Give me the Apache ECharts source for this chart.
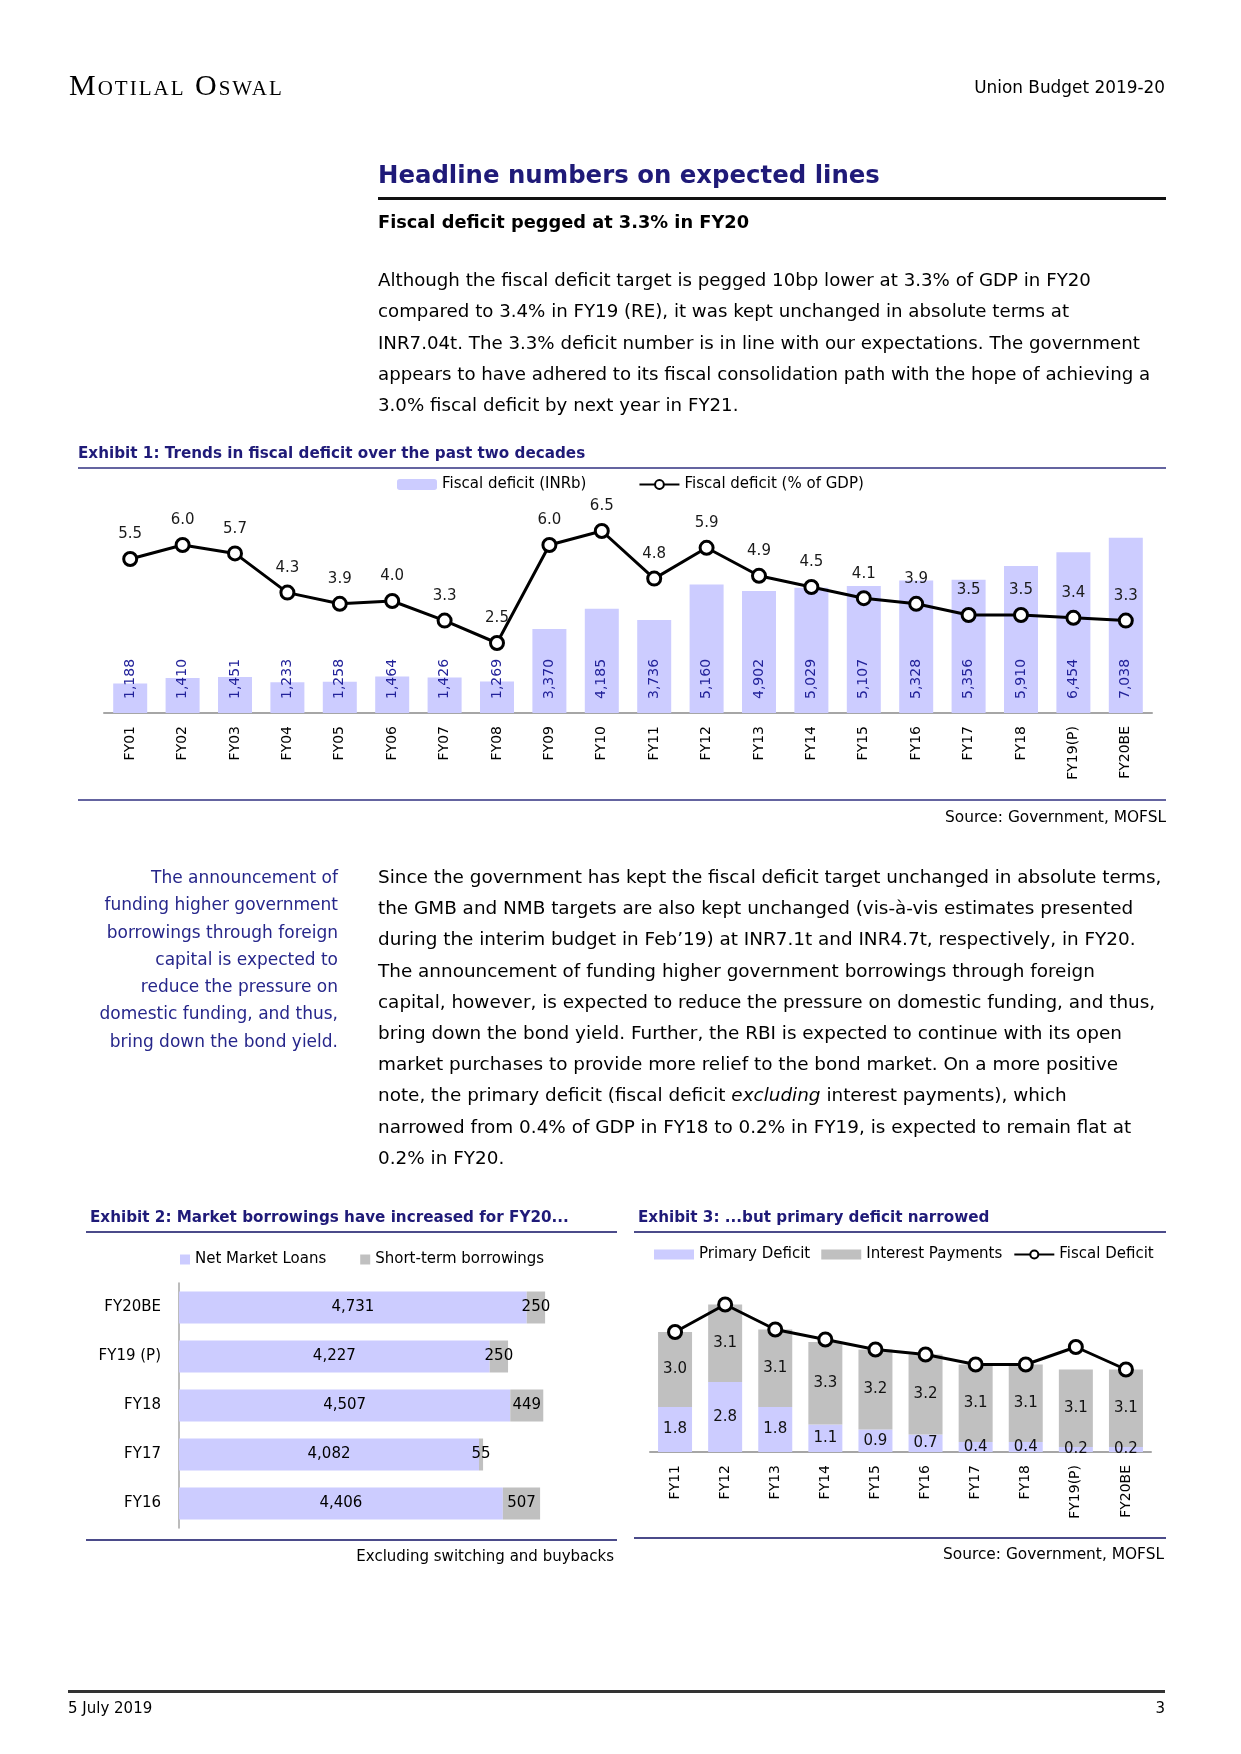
<!DOCTYPE html>
<html>
<head>
<meta charset="utf-8">
<script src="https://cdn.jsdelivr.net/npm/echarts@6/dist/echarts.min.js"></script>
<style>
  html, body { margin:0; padding:0; background:#fff; }
  #page { position:relative; width:1241px; height:1754px; background:#fff; overflow:hidden; font-family:'DejaVu Sans', sans-serif; color:#000; }
  #chart { position:absolute; left:0; top:0; width:1241px; height:1754px; }
  .t { position:absolute; white-space:nowrap; z-index:2; }
  .rule { position:absolute; z-index:2; }
  .navy { color:#1f1a78; }
</style>
</head>
<body>
<div id="page">
  <div id="chart"></div>

  <div class="t" style="left:69px; top:67px; line-height:36px; font-family:'Liberation Serif',serif; font-variant:small-caps; font-size:30px; letter-spacing:2px;">Motilal Oswal</div>
  <div class="t" style="right:76px; top:76px; line-height:22px; font-size:16.9px;">Union Budget 2019-20</div>

  <div class="t navy" style="left:378px; top:159px; line-height:32px; font-size:24.4px; font-weight:bold;">Headline numbers on expected lines</div>
  <div class="rule" style="left:378px; top:197px; width:788px; height:3px; background:#111;"></div>
  <div class="t" style="left:378px; top:209px; line-height:26px; font-size:17.8px; font-weight:bold;">Fiscal deficit pegged at 3.3% in FY20</div>

  <div class="t" style="left:378px; top:264px; line-height:31.25px; font-size:18.2px;">Although the fiscal deficit target is pegged 10bp lower at 3.3% of GDP in FY20<br>compared to 3.4% in FY19 (RE), it was kept unchanged in absolute terms at<br>INR7.04t. The 3.3% deficit number is in line with our expectations. The government<br>appears to have adhered to its fiscal consolidation path with the hope of achieving a<br>3.0% fiscal deficit by next year in FY21.</div>

  <div class="t navy" style="left:78px; top:442px; line-height:22px; font-size:15.2px; font-weight:bold;">Exhibit 1: Trends in fiscal deficit over the past two decades</div>
  <div class="rule" style="left:78px; top:467px; width:1088px; height:2px; background:#6464a0;"></div>
  <div class="rule" style="left:78px; top:799px; width:1088px; height:2px; background:#6464a0;"></div>
  <div class="t" style="right:75px; top:806px; line-height:22px; font-size:15.4px;">Source: Government, MOFSL</div>

  <div class="t" style="right:903px; top:864px; line-height:27.3px; font-size:17px; text-align:right; color:#26268a;">The announcement of<br>funding higher government<br>borrowings through foreign<br>capital is expected to<br>reduce the pressure on<br>domestic funding, and thus,<br>bring down the bond yield.</div>

  <div class="t" style="left:378px; top:861px; line-height:31.2px; font-size:18.4px;">Since the government has kept the fiscal deficit target unchanged in absolute terms,<br>the GMB and NMB targets are also kept unchanged (vis-à-vis estimates presented<br>during the interim budget in Feb’19) at INR7.1t and INR4.7t, respectively, in FY20.<br>The announcement of funding higher government borrowings through foreign<br>capital, however, is expected to reduce the pressure on domestic funding, and thus,<br>bring down the bond yield. Further, the RBI is expected to continue with its open<br>market purchases to provide more relief to the bond market. On a more positive<br>note, the primary deficit (fiscal deficit <i>excluding</i> interest payments), which<br>narrowed from 0.4% of GDP in FY18 to 0.2% in FY19, is expected to remain flat at<br>0.2% in FY20.</div>

  <div class="t navy" style="left:90px; top:1206px; line-height:22px; font-size:15.2px; font-weight:bold;">Exhibit 2: Market borrowings have increased for FY20...</div>
  <div class="rule" style="left:86px; top:1231px; width:531px; height:2px; background:#4b4b8a;"></div>
  <div class="rule" style="left:86px; top:1539px; width:531px; height:2px; background:#4b4b8a;"></div>
  <div class="t" style="right:627px; top:1545px; line-height:22px; font-size:15px;">Excluding switching and buybacks</div>

  <div class="t navy" style="left:638px; top:1206px; line-height:22px; font-size:15.2px; font-weight:bold;">Exhibit 3: ...but primary deficit narrowed</div>
  <div class="rule" style="left:634px; top:1231px; width:532px; height:2px; background:#4b4b8a;"></div>
  <div class="rule" style="left:634px; top:1537px; width:532px; height:2px; background:#4b4b8a;"></div>
  <div class="t" style="right:77px; top:1543px; line-height:22px; font-size:15.4px;">Source: Government, MOFSL</div>

  <div class="rule" style="left:68px; top:1690px; width:1097px; height:3px; background:#333;"></div>
  <div class="t" style="left:68px; top:1698px; line-height:20px; font-size:15px;">5 July 2019</div>
  <div class="t" style="right:76px; top:1698px; line-height:20px; font-size:15px;">3</div>
</div>

<script>
// ---------- Exhibit 1 data ----------
const ex1Categories = ['FY01','FY02','FY03','FY04','FY05','FY06','FY07','FY08','FY09','FY10',
                       'FY11','FY12','FY13','FY14','FY15','FY16','FY17','FY18','FY19(P)','FY20BE'];
const ex1DeficitINRb = [1188,1410,1451,1233,1258,1464,1426,1269,3370,4185,
                        3736,5160,4902,5029,5107,5328,5356,5910,6454,7038];
const ex1DeficitPctGDP = [5.5,6.0,5.7,4.3,3.9,4.0,3.3,2.5,6.0,6.5,
                          4.8,5.9,4.9,4.5,4.1,3.9,3.5,3.5,3.4,3.3];

// ---------- Exhibit 2 data (bottom to top) ----------
const ex2Categories = ['FY16','FY17','FY18','FY19 (P)','FY20BE'];
const ex2NetMarketLoans = [4406,4082,4507,4227,4731];
const ex2ShortTerm = [507,55,449,250,250];

// ---------- Exhibit 3 data ----------
const ex3Categories = ['FY11','FY12','FY13','FY14','FY15','FY16','FY17','FY18','FY19(P)','FY20BE'];
const ex3Primary = [1.8,2.8,1.8,1.1,0.9,0.7,0.4,0.4,0.2,0.2];
const ex3Interest = [3.0,3.1,3.1,3.3,3.2,3.2,3.1,3.1,3.1,3.1];
const ex3Fiscal = [4.8,5.9,4.9,4.5,4.1,3.9,3.5,3.5,4.2,3.3];

const FONT = 'DejaVu Sans';
const fmtInt = p => Number(p.value).toLocaleString('en-US');
const fmt1 = p => Number(p.value).toFixed(1);
const axisGray = '#a6a6a6';
const lavender = '#ccccff';
const silver = '#c0c0c0';
const lineMarker = {
  type:'line', symbol:'circle', symbolSize:13,
  lineStyle:{color:'#000', width:3},
  itemStyle:{color:'#fff', borderColor:'#000', borderWidth:3},
  z:5
};

const chart = echarts.init(document.getElementById('chart'), null, {renderer:'canvas', width:1241, height:1754});
chart.setOption({
  animation:false,
  textStyle:{fontFamily:FONT},
  legend:[
    {left:397, top:477, padding:0, itemWidth:40, itemHeight:11, itemGap:52,
     data:['Fiscal deficit (INRb)','Fiscal deficit (% of GDP)'],
     textStyle:{fontFamily:FONT, fontSize:15, color:'#000'}},
    {left:180, top:1252, padding:0, itemWidth:10, itemHeight:10, itemGap:34,
     data:[{name:'Net Market Loans', icon:'rect'},{name:'Short-term borrowings', icon:'rect'}],
     textStyle:{fontFamily:FONT, fontSize:15, color:'#000'}},
    {left:654, top:1247, padding:0, itemWidth:40, itemHeight:10, itemGap:11,
     data:[{name:'Primary Deficit', icon:'rect'},{name:'Interest Payments', icon:'rect'},'Fiscal Deficit'],
     textStyle:{fontFamily:FONT, fontSize:15, color:'#000'}}
  ],
  grid:[
    {left:104, top:489, width:1048, height:224},
    {left:179, top:1283, width:441, height:245},
    {left:650, top:1277, width:501, height:175}
  ],
  xAxis:[
    {gridIndex:0, type:'category', data:ex1Categories,
     axisLine:{lineStyle:{color:axisGray, width:2}}, axisTick:{show:false},
     axisLabel:{rotate:90, margin:13, interval:0, fontSize:14, color:'#000', fontFamily:FONT}},
    {gridIndex:1, type:'value', min:0, max:6000, show:false},
    {gridIndex:2, type:'category', data:ex3Categories,
     axisLine:{lineStyle:{color:axisGray, width:2}}, axisTick:{show:false},
     axisLabel:{rotate:90, margin:13, interval:0, fontSize:14, color:'#000', fontFamily:FONT}}
  ],
  yAxis:[
    {gridIndex:0, type:'value', min:0, max:9000, show:false},
    {gridIndex:0, type:'value', min:0, max:8, show:false},
    {gridIndex:1, type:'category', data:ex2Categories,
     axisLine:{lineStyle:{color:axisGray, width:1.5}}, axisTick:{show:false},
     axisLabel:{margin:18, fontSize:15, color:'#000', fontFamily:FONT}},
    {gridIndex:2, type:'value', min:0, max:7, show:false}
  ],
  series:[
    {name:'Fiscal deficit (INRb)', type:'bar', xAxisIndex:0, yAxisIndex:0, data:ex1DeficitINRb,
     barWidth:34, itemStyle:{color:lavender},
     label:{show:true, position:'insideBottom', rotate:90, align:'left', verticalAlign:'middle',
            distance:14, fontSize:14, color:'#22229a', fontFamily:FONT, formatter:fmtInt}},
    Object.assign({name:'Fiscal deficit (% of GDP)', xAxisIndex:0, yAxisIndex:1, data:ex1DeficitPctGDP,
     label:{show:true, position:'top', distance:9, fontSize:15, color:'#1a1a1a', fontFamily:FONT, formatter:fmt1}}, lineMarker),

    {name:'Net Market Loans', type:'bar', xAxisIndex:1, yAxisIndex:2, stack:'mb', data:ex2NetMarketLoans,
     barWidth:32, itemStyle:{color:lavender},
     label:{show:true, position:'inside', fontSize:15, color:'#000', fontFamily:FONT, formatter:fmtInt}},
    {name:'Short-term borrowings', type:'bar', xAxisIndex:1, yAxisIndex:2, stack:'mb', data:ex2ShortTerm,
     barWidth:32, itemStyle:{color:silver},
     label:{show:true, position:'inside', fontSize:15, color:'#000', fontFamily:FONT, formatter:fmtInt}},

    {name:'Primary Deficit', type:'bar', xAxisIndex:2, yAxisIndex:3, stack:'pd', data:ex3Primary,
     barWidth:34, itemStyle:{color:lavender},
     label:{show:true, position:'inside', fontSize:15, color:'#111', fontFamily:FONT, formatter:fmt1}},
    {name:'Interest Payments', type:'bar', xAxisIndex:2, yAxisIndex:3, stack:'pd', data:ex3Interest,
     barWidth:34, itemStyle:{color:silver},
     label:{show:true, position:'inside', fontSize:15, color:'#111', fontFamily:FONT, formatter:fmt1}},
    Object.assign({name:'Fiscal Deficit', xAxisIndex:2, yAxisIndex:3, data:ex3Fiscal}, lineMarker)
  ]
});
</script>
</body>
</html>
